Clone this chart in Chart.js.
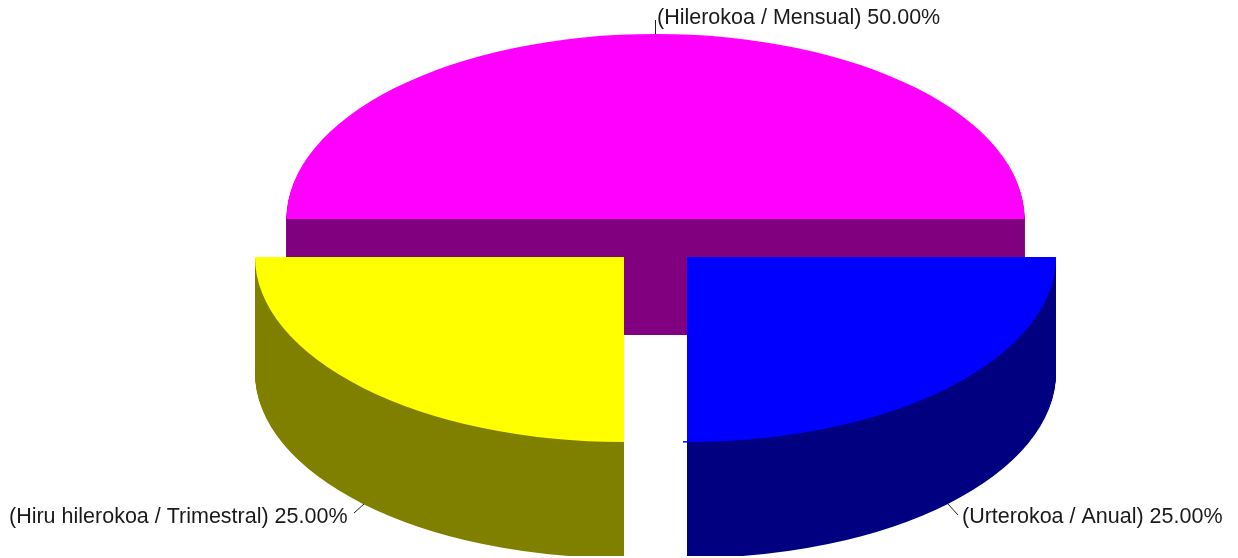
<!DOCTYPE html>
<html>
<head>
<meta charset="utf-8">
<style>html,body{margin:0;padding:0;background:#fff}canvas{display:block}</style>
<script src="https://cdn.jsdelivr.net/npm/chart.js@4/dist/chart.umd.min.js"></script>
</head>
<body>
<canvas id="c" width="1238" height="558"></canvas>
<script>
const categories = ['Hilerokoa / Mensual', 'Urterokoa / Anual', 'Hiru hilerokoa / Trimestral'];
const values = [50, 25, 25];
const topColors = ['#ff00ff', '#0000ff', '#ffff00'];
const wallColors = ['#800080', '#000080', '#808000'];
const explodeX = [0, 31.5, -31.5];
const explodeY = [0, 38, 38];
const labelAnchors = [
  {x: 657, y: 18, from: [655.5, 34], to: [655.5, 20]},
  {x: 962, y: 517, from: [948, 504], to: [958, 515]},
  {x: 9, y: 517, from: [364, 504], to: [354, 513]}
];
const squash = 0.5016, depth = 116, clipBottom = 556;

const pie3d = {
  id: 'pie3d',
  beforeDatasetsDraw(chart) {
    const ctx = chart.ctx;
    const arcs = chart.getDatasetMeta(0).data;
    const total = values.reduce((a, b) => a + b, 0);
    ctx.save();
    ctx.beginPath();
    ctx.rect(0, 0, chart.width, clipBottom);
    ctx.clip();
    arcs.forEach((arc, i) => {
      const base = arc.options;
      const place = d => {
        ctx.translate(arc.x + explodeX[i], arc.y + explodeY[i] + d);
        ctx.scale(1, squash);
        ctx.translate(-arc.x, -arc.y);
      };
      arc.options = Object.create(base, {backgroundColor: {value: wallColors[i]}});
      for (let d = depth; d >= 1; d--) {
        ctx.save(); place(d); arc.draw(ctx); ctx.restore();
      }
      arc.options = base;
      ctx.save(); place(0); arc.draw(ctx); ctx.restore();
    });
    // small blue overdraw stub at the front corner of the blue slice
    const blue = arcs[1];
    ctx.fillStyle = topColors[1];
    ctx.fillRect(blue.x + explodeX[1] - 4, blue.y + explodeY[1] + blue.outerRadius * squash - 1, 4, 1.5);
    ctx.restore();

    ctx.save();
    ctx.font = '21.5px "Liberation Sans", Arial, sans-serif';
    ctx.textBaseline = 'middle';
    ctx.textAlign = 'left';
    categories.forEach((name, i) => {
      const a = labelAnchors[i];
      ctx.strokeStyle = '#222';
      ctx.lineWidth = 1;
      ctx.beginPath();
      ctx.moveTo(a.from[0], a.from[1]);
      ctx.lineTo(a.to[0], a.to[1]);
      ctx.stroke();
      ctx.fillStyle = '#1a1a1a';
      ctx.fillText('(' + name + ') ' + (values[i] / total * 100).toFixed(2) + '%', a.x, a.y);
    });
    ctx.restore();
    return false;
  }
};

new Chart(document.getElementById('c'), {
  type: 'pie',
  data: {
    labels: categories,
    datasets: [{data: values, backgroundColor: topColors, borderWidth: 0}]
  },
  options: {
    responsive: false,
    animation: false,
    rotation: -90,
    radius: 369,
    layout: {padding: {left: 73, bottom: 120}},
    plugins: {legend: {display: false}, tooltip: {enabled: false}}
  },
  plugins: [pie3d]
});
</script>
</body>
</html>
